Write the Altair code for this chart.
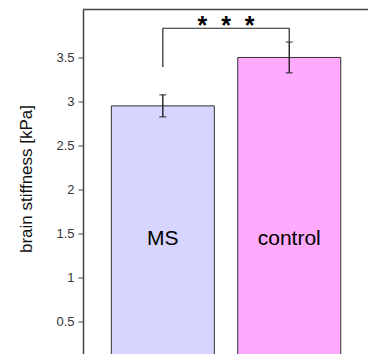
import altair as alt
import pandas as pd

categories = ["MS", "control"]
positions = [1, 2]
means = [2.95, 3.5]
errors = [0.125, 0.175]
colors = ["#d5d5ff", "#ffaaff"]

bracket_top = 3.832
bracket_leg_bottoms = [3.392, 3.68]
stars_text = "*\u00a0\u00a0*\u00a0\u00a0*"
stars_y = 3.765
label_y = 1.37

y_ticks = [0, 0.5, 1, 1.5, 2, 2.5, 3, 3.5]
W, H = 285, 344
y_domain = [4.045 - H / 88.0, 4.045]
x_domain = [0.408, 0.408 + W / 131.0]

df = pd.DataFrame({
    "cat": categories,
    "pos": positions,
    "mean": means,
    "lo": [m - e for m, e in zip(means, errors)],
    "hi": [m + e for m, e in zip(means, errors)],
    "color": colors,
    "leg_bottom": bracket_leg_bottoms,
    "bracket_top": [bracket_top] * 2,
    "label_y": [label_y] * 2,
})

xs = alt.Scale(domain=x_domain, nice=False, zero=False)
ys = alt.Scale(domain=y_domain, nice=False, zero=False)
X = alt.X("pos:Q", scale=xs, axis=None)

bars = alt.Chart(df).mark_bar(size=103, stroke="#333", strokeWidth=1).encode(
    x=X,
    y=alt.Y("mean:Q", scale=ys,
            axis=alt.Axis(values=y_ticks, format="~g", title="brain stiffness [kPa]")),
    fill=alt.Fill("color:N", scale=None),
)

err = alt.Chart(df).mark_rule(color="#111", strokeWidth=1.3).encode(
    x=X, y=alt.Y("lo:Q", scale=ys), y2="hi:Q")
cap_lo = alt.Chart(df).mark_tick(color="#111", thickness=1.3, size=7, orient="horizontal").encode(
    x=X, y=alt.Y("lo:Q", scale=ys))
cap_hi = alt.Chart(df).mark_tick(color="#111", thickness=1.3, size=7, orient="horizontal").encode(
    x=X, y=alt.Y("hi:Q", scale=ys))

legs = alt.Chart(df).mark_rule(color="#222", strokeWidth=1.2).encode(
    x=X, y=alt.Y("leg_bottom:Q", scale=ys), y2="bracket_top:Q")
top_bar = alt.Chart(pd.DataFrame({"a": [positions[0]], "b": [positions[1]], "t": [bracket_top]})).mark_rule(
    color="#222", strokeWidth=1.2).encode(
    x=alt.X("a:Q", scale=xs, axis=None), x2="b:Q", y=alt.Y("t:Q", scale=ys))

stars = alt.Chart(pd.DataFrame({"x": [sum(positions) / 2], "y": [stars_y], "t": [stars_text]})).mark_text(
    font="Liberation Sans", fontSize=25, fontWeight="bold", color="#000", baseline="alphabetic").encode(
    x=alt.X("x:Q", scale=xs, axis=None), y=alt.Y("y:Q", scale=ys), text="t:N")

labels = alt.Chart(df).mark_text(font="Liberation Sans", fontSize=21, color="#000",
                                 baseline="alphabetic").encode(
    x=X, y=alt.Y("label_y:Q", scale=ys), text="cat:N")

frame_top = alt.Chart().mark_rule(color="#444", strokeWidth=1.5).encode(
    x=alt.value(0), x2=alt.value(W), y=alt.value(0))

chart = alt.layer(bars, err, cap_lo, cap_hi, legs, top_bar, stars, labels, frame_top).properties(
    width=W, height=H,
    autosize=alt.AutoSizeParams(type="none"),
    padding={"left": 75, "top": 1.5, "right": 0, "bottom": 0},
).configure_view(stroke=None).configure_axisY(
    domainColor="#444", domainWidth=1.5, tickColor="#444", tickSize=5, tickWidth=1,
    labelFont="Liberation Sans", labelFontSize=13, labelColor="#333", labelPadding=4,
    grid=False, titleFont="Liberation Sans", titleFontSize=17, titleFontWeight="normal",
    titleColor="#111", titleX=-48, titleY=169,
)

chart.save("out.html", embed_options={"renderer": "svg", "actions": False})
